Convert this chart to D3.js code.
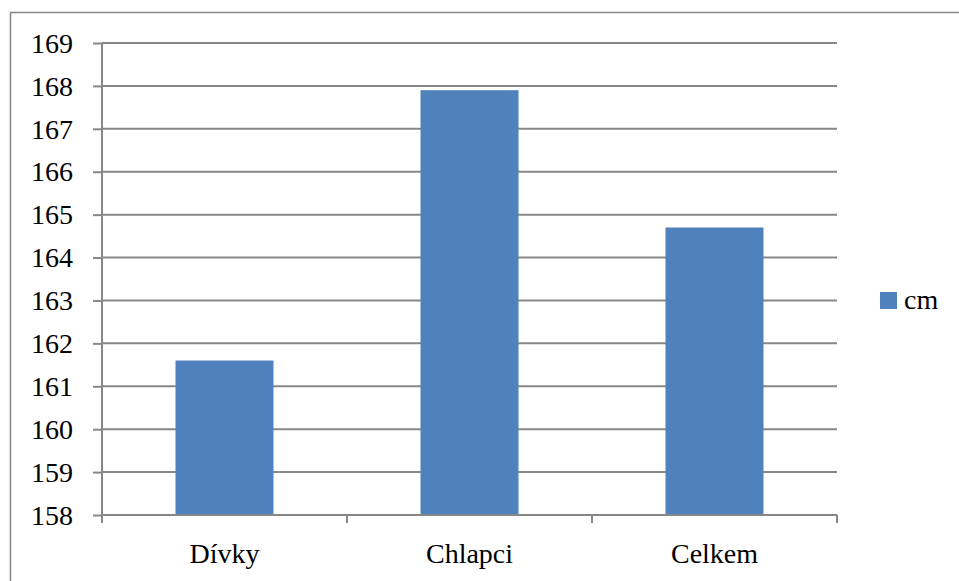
<!DOCTYPE html>
<html>
<head>
<meta charset="utf-8">
<script src="https://cdn.jsdelivr.net/npm/d3@7"></script>
<style>
  html, body { margin: 0; padding: 0; background: #fff; overflow: hidden; }
  svg { display: block; }
  svg text { font-family: "Liberation Serif", "Times New Roman", Tinos, "Nimbus Roman", "DejaVu Serif", serif; fill: #000; }
</style>
</head>
<body>
<svg id="chart" width="959" height="581"></svg>
<script>
// Average height per group (cm)
const categories = ["Dívky", "Chlapci", "Celkem"];
const values = [161.6, 167.9, 164.7];
const seriesName = "cm";
const yTicks = [158, 159, 160, 161, 162, 163, 164, 165, 166, 167, 168, 169];

const svg = d3.select("#chart");
const gridColor = "#878787";
const barColor = "#4F81BD";
const fontSize = 28;

// Chart frame (extends past the right and bottom edges)
svg.append("rect")
  .attr("x", 10.5).attr("y", 12.5)
  .attr("width", 1000).attr("height", 1000)
  .attr("fill", "none")
  .attr("stroke", gridColor).attr("stroke-width", 1.5);

const plot = { left: 102, right: 837, top: 43, bottom: 515 };

const x = d3.scaleBand()
  .domain(categories)
  .range([plot.left, plot.right])
  .padding(0);

const y = d3.scaleLinear()
  .domain([158, 169])
  .range([plot.bottom, plot.top]);

// Horizontal gridlines
svg.append("g")
  .selectAll("line")
  .data(yTicks.slice(1))
  .join("line")
  .attr("x1", plot.left).attr("x2", plot.right)
  .attr("y1", d => y(d)).attr("y2", d => y(d))
  .attr("stroke", gridColor).attr("stroke-width", 2);

// Bars: width is band / 2.5 (150% gap)
const barW = x.bandwidth() / 2.5;
svg.append("g")
  .selectAll("rect")
  .data(values)
  .join("rect")
  .attr("x", (d, i) => x(categories[i]) + (x.bandwidth() - barW) / 2)
  .attr("y", d => y(d))
  .attr("width", barW)
  .attr("height", d => y(158) - y(d))
  .attr("fill", barColor);

// Y axis
const yAxis = d3.axisLeft(y)
  .tickValues(yTicks)
  .tickFormat(d3.format("d"))
  .tickSize(9)
  .tickPadding(20);
const gy = svg.append("g")
  .attr("transform", `translate(${plot.left},0)`)
  .call(yAxis);
gy.attr("font-family", null).attr("font-size", fontSize);
gy.select(".domain").attr("stroke", gridColor).attr("stroke-width", 2)
  .attr("d", `M0,${plot.top}V${plot.bottom}`);
gy.selectAll(".tick line").attr("stroke", gridColor).attr("stroke-width", 2);
gy.selectAll(".tick text")
  .attr("fill", "#000")
  .attr("dy", "0.33em");

// X axis with tick marks at category boundaries
const gx = svg.append("g")
  .attr("transform", `translate(0,${plot.bottom})`);
gx.append("line")
  .attr("x1", plot.left).attr("x2", plot.right)
  .attr("stroke", gridColor).attr("stroke-width", 2);
const bounds = categories.map(c => x(c)).concat([x(categories[categories.length - 1]) + x.bandwidth()]);
gx.selectAll("line.tick")
  .data(bounds)
  .join("line")
  .attr("class", "tick")
  .attr("x1", d => d).attr("x2", d => d)
  .attr("y1", 0).attr("y2", 8)
  .attr("stroke", gridColor).attr("stroke-width", 2);
gx.selectAll("text")
  .data(categories)
  .join("text")
  .attr("x", d => x(d) + x.bandwidth() / 2)
  .attr("y", 48)
  .attr("text-anchor", "middle")
  .attr("font-size", fontSize)
  .text(d => d);

// Legend
const legend = svg.append("g").attr("transform", "translate(880,292)");
legend.append("rect")
  .attr("width", 17).attr("height", 17)
  .attr("fill", barColor);
legend.append("text")
  .attr("x", 24).attr("y", 17)
  .attr("font-size", fontSize)
  .text(seriesName);
</script>
</body>
</html>
